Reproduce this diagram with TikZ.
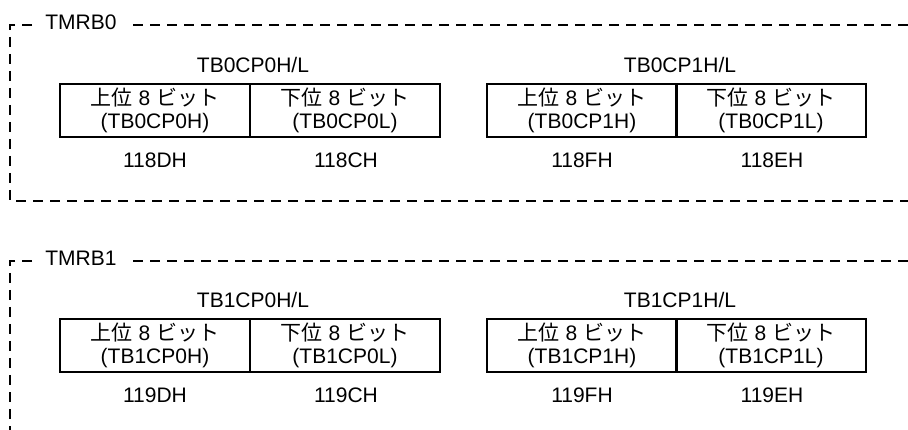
\documentclass[tikz,border=0pt]{standalone}
\usepackage{fontspec}
\setmainfont{Liberation Sans}
\newfontfamily\cjk{Noto Sans CJK JP}
\begin{document}
\begin{tikzpicture}[x=1pt,y=-1pt,
  reg/.style={draw, line width=1.5pt, minimum width=190pt, minimum height=53pt,
    inner sep=0pt, outer sep=0pt, align=center, anchor=north west,
    font=\fontsize{21}{23}\selectfont},
  lbl/.style={font=\fontsize{21}{24}\selectfont, inner sep=0pt},
  frame/.style={line width=1.3pt, dash pattern=on 10pt off 7pt, line join=miter}]
\useasboundingbox (0,0) rectangle (908,430);
\newcommand{\hi}{{\cjk 上位}\ 8\ {\cjk ビット}}
\newcommand{\lo}{{\cjk 下位}\ 8\ {\cjk ビット}}

% ---- frame TMRB0
\node[lbl] (t0) at (81,22) {TMRB0};
\coordinate (t0a) at (32,25);
\coordinate (t0c) at (10,25);
\coordinate (t0d) at (10,201);
\coordinate (t0e) at (908,201);
\coordinate (t0f) at (133,25);
\coordinate (t0g) at (908,25);
\draw[frame] (t0a) -- (t0c) -- (t0d) -- (t0e);
\draw[frame] (t0f) -- (t0g);

% ---- frame TMRB1
\node[lbl] (t1) at (81,258) {TMRB1};
\coordinate (t1a) at (32,261);
\coordinate (t1c) at (10,261);
\coordinate (t1d) at (10,440);
\coordinate (t1f) at (133,261);
\coordinate (t1g) at (908,261);
\draw[frame] (t1a) -- (t1c) -- (t1d);
\draw[frame] (t1f) -- (t1g);

% ---- row 0
\node[lbl] (h00) at (253,65) {TB0CP0H/L};
\node[reg] (b00h) at (60,84) {\hi\\(TB0CP0H)};
\node[reg] (b00l) at (250,84) {\lo\\(TB0CP0L)};
\node[lbl] (a00h) at (155,160) {118DH};
\node[lbl] (a00l) at (346,160) {118CH};

\node[lbl] (h01) at (680,65) {TB0CP1H/L};
\node[reg] (b01h) at (487,84) {\hi\\(TB0CP1H)};
\node[reg] (b01l) at (676,84) {\lo\\(TB0CP1L)};
\node[lbl] (a01h) at (582,160) {118FH};
\node[lbl] (a01l) at (772,160) {118EH};

% ---- row 1
\node[lbl] (h10) at (253,300) {TB1CP0H/L};
\node[reg] (b10h) at (60,319) {\hi\\(TB1CP0H)};
\node[reg] (b10l) at (250,319) {\lo\\(TB1CP0L)};
\node[lbl] (a10h) at (155,395) {119DH};
\node[lbl] (a10l) at (346,395) {119CH};

\node[lbl] (h11) at (680,300) {TB1CP1H/L};
\node[reg] (b11h) at (487,319) {\hi\\(TB1CP1H)};
\node[reg] (b11l) at (676,319) {\lo\\(TB1CP1L)};
\node[lbl] (a11h) at (582,395) {119FH};
\node[lbl] (a11l) at (772,395) {119EH};
\end{tikzpicture}
\end{document}
